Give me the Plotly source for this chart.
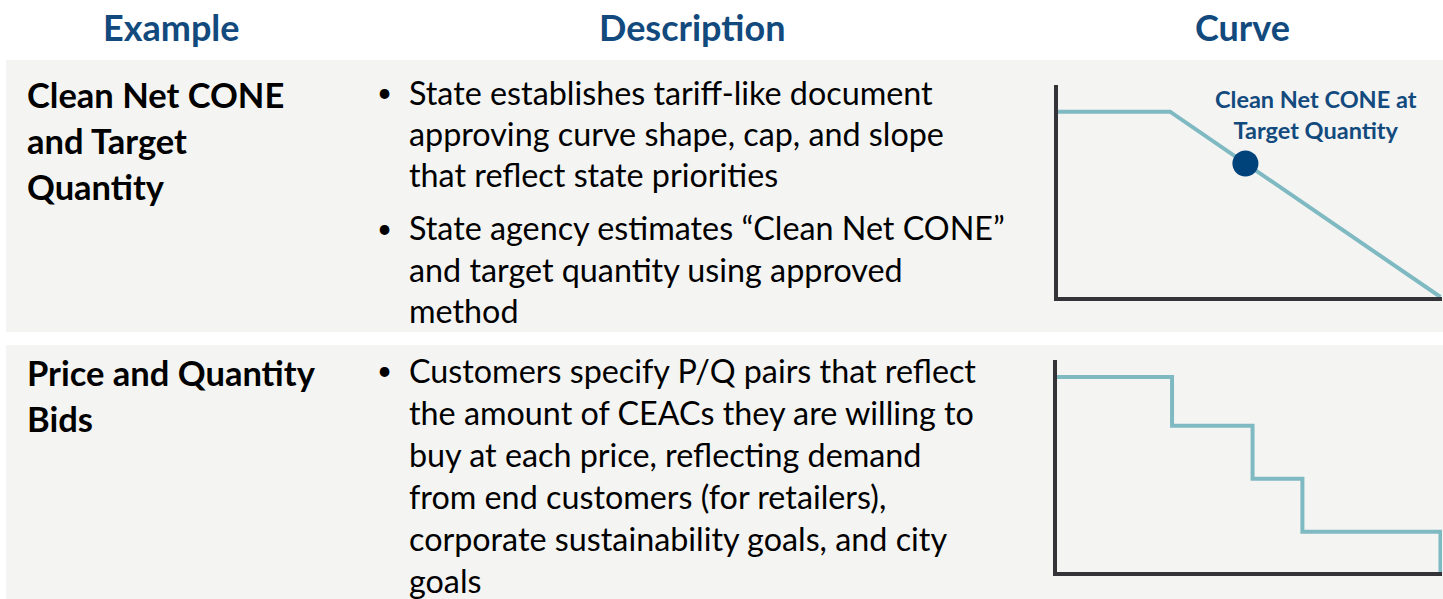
import plotly.graph_objects as go

W, H = 1443, 599

# ---- data ----
headers = ["Example", "Description", "Curve"]
row1_label = ["Clean Net CONE", "and Target", "Quantity"]
row1_bullets = [
    ["State establishes tariff-like document",
     "approving curve shape, cap, and slope",
     "that reflect state priorities"],
    ["State agency estimates \u201cClean Net CONE\u201d",
     "and target quantity using approved",
     "method"],
]
row2_label = ["Price and Quantity", "Bids"]
row2_bullets = [
    ["Customers specify P/Q pairs that reflect",
     "the amount of CEACs they are willing to",
     "buy at each price, reflecting demand",
     "from end customers (for retailers),",
     "corporate sustainability goals, and city",
     "goals"],
]

# Curve 1: administratively set demand curve (quantity, price)
curve1_q = [0, 2.93, 10]
curve1_p = [8.74, 8.74, 0]
target_q = [4.9]
target_p = [6.3]
target_label = "Clean Net CONE at<br>Target Quantity"

# Curve 2: stepped price/quantity bids
curve2_q = [0, 3.0, 5.1, 6.4, 10.0]
curve2_p = [9.2, 6.9, 4.4, 1.9, 0]

# ---- styling ----
BLUE = "#124a7e"
TEAL = "#7fb9c1"
AXIS = "#333338"
BAND = "#f4f4f3"
FONT = "Lato"

def px(x):
    return x / W

def py(y):
    return 1 - y / H

fig = go.Figure()

fig.add_trace(go.Scatter(x=curve1_q, y=curve1_p, mode="lines",
                         line=dict(color=TEAL, width=4), xaxis="x", yaxis="y",
                         hoverinfo="skip"))
fig.add_trace(go.Scatter(x=target_q, y=target_p, mode="markers",
                         marker=dict(color="#00427a", size=26), xaxis="x", yaxis="y",
                         cliponaxis=False, hoverinfo="skip"))
fig.add_trace(go.Scatter(x=curve2_q, y=curve2_p, mode="lines", line_shape="hv",
                         line=dict(color=TEAL, width=4), xaxis="x2", yaxis="y2",
                         hoverinfo="skip"))

ax_common = dict(showgrid=False, zeroline=False, showticklabels=False, ticks="",
                 showline=True, linecolor=AXIS, linewidth=4, fixedrange=True)

fig.update_layout(
    width=W, height=H,
    margin=dict(l=0, r=0, t=0, b=0),
    paper_bgcolor="white", plot_bgcolor="rgba(0,0,0,0)",
    showlegend=False,
    xaxis=dict(domain=[px(1058), px(1442)], range=[0, 10.04], anchor="y", **ax_common),
    yaxis=dict(domain=[py(297), py(85)], range=[0, 10], anchor="x", **ax_common),
    xaxis2=dict(domain=[px(1057), px(1442)], range=[0, 10.04], anchor="y2", **ax_common),
    yaxis2=dict(domain=[py(572), py(360)], range=[0, 10], anchor="x2", **ax_common),
)

# bands
fig.add_shape(type="rect", xref="paper", yref="paper", x0=px(6), x1=1, y0=py(332), y1=py(60),
              fillcolor=BAND, line_width=0, layer="below")
fig.add_shape(type="rect", xref="paper", yref="paper", x0=px(6), x1=1, y0=0, y1=py(345),
              fillcolor=BAND, line_width=0, layer="below")

def text(x, y, s, size, color="black", bold=False, anchor="left"):
    fig.add_annotation(xref="paper", yref="paper", x=px(x), y=py(y), text=(f"<b>{s}</b>" if bold else s),
                       showarrow=False, xanchor=anchor, yanchor="middle",
                       font=dict(family=FONT, size=size, color=color))

BODY = 32.3
LABEL = 34.5

# headers
for hx, h in zip([171, 692, 1242], headers):
    text(hx, 27, h, 36, BLUE, True, "center")

# row 1
for i, s in enumerate(row1_label):
    text(25, 94 + i * 46.5, s, LABEL, bold=True)
y = 92
for b in row1_bullets:
    text(384, y, "\u2022", 26, anchor="center")
    for s in b:
        text(407, y, s, BODY)
        y += 41.5
    y += 11

# row 2
for i, s in enumerate(row2_label):
    text(25, 372 + i * 46.5, s, LABEL, bold=True)
y = 370
for b in row2_bullets:
    text(384, y, "\u2022", 26, anchor="center")
    for s in b:
        text(407, y, s, BODY)
        y += 42

# curve label
fig.add_annotation(xref="x", yref="y", x=6.75, y=8.6, text=f"<b>{target_label}</b>",
                   showarrow=False, xanchor="center", yanchor="middle",
                   font=dict(family=FONT, size=23.5, color=BLUE))

fig.write_html("out.html", config={"displayModeBar": False},
               post_script="document.body.style.margin='0px';")
